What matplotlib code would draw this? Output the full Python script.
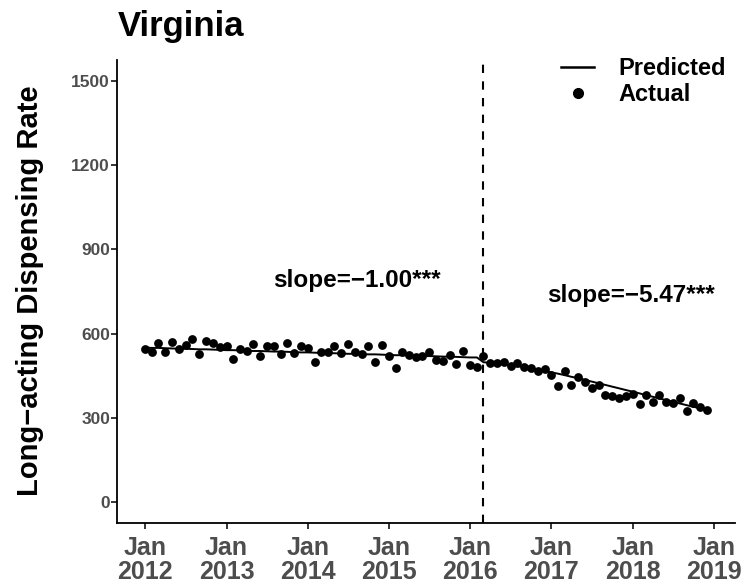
import numpy as np
import pandas as pd
import matplotlib
matplotlib.use('Agg')
import matplotlib.pyplot as plt
from matplotlib.lines import Line2D

plt.rcParams['font.family'] = ['Liberation Sans', 'DejaVu Sans']

# monthly data, Jan 2012 - Dec 2018
months = pd.date_range('2012-01-01', periods=84, freq='MS')
actual = [544, 533, 567, 533, 571, 544, 559, 579, 526, 574, 565, 551,
          555, 508, 544, 539, 562, 520, 555, 555, 526, 565, 532, 555,
          547, 500, 535, 535, 557, 531, 562, 534, 527, 555, 499, 559,
          520, 478, 534, 523, 516, 520, 534, 506, 501, 524, 491, 539,
          488, 480, 521, 494, 495, 498, 485, 494, 482, 476, 468, 475,
          453, 414, 465, 417, 445, 429, 406, 417, 382, 378, 370, 376,
          384, 350, 382, 356, 380, 358, 353, 370, 323, 353, 338, 326]
predicted = [550, 549, 549, 548, 547, 546, 546, 545, 544, 544, 543, 542,
             541, 541, 540, 539, 538, 538, 537, 536, 536, 535, 534, 533,
             533, 532, 531, 531, 530, 529, 528, 528, 527, 526, 526, 525,
             524, 523, 523, 522, 521, 520, 520, 519, 518, 518, 517, 516,
             515, 515, 498, 496, 493, 490, 487, 484, 480, 476, 472, 467,
             462, 457, 452, 446, 441, 435, 429, 423, 417, 411, 405, 399,
             393, 387, 381, 375, 369, 363, 357, 351, 345, 339, 334, 328]
intervention = pd.Timestamp('2016-03-01')
tick_years = [2012, 2013, 2014, 2015, 2016, 2017, 2018, 2019]
y_ticks = [0, 300, 600, 900, 1200, 1500]

fig = plt.figure(figsize=(7.55, 5.88), dpi=100)
ax = fig.add_axes([0.155, 0.1105, 0.8185, 0.7875])

ax.plot(months, predicted, color='black', lw=1.4, zorder=3)
ax.scatter(months, actual, s=40, color='black', zorder=4, linewidths=0)
ax.axvline(intervention, color='black', lw=1.5, dashes=(4, 4))

ax.text(pd.Timestamp('2014-08-10'), 789, 'slope=\u22121.00***', ha='center', va='center',
        fontsize=17.5, fontweight='bold')
ax.text(pd.Timestamp('2017-12-25'), 736, 'slope=\u22125.47***', ha='center', va='center',
        fontsize=17.5, fontweight='bold')

span = months[-1] - months[0]
ax.set_xlim(months[0] - 0.05 * span, months[-1] + 0.05 * span)
ax.set_ylim(-75, 1575)

ax.set_xticks([pd.Timestamp(f'{y}-01-01') for y in tick_years])
ax.set_xticklabels([f'Jan\n{y}' for y in tick_years], linespacing=1.02)
ax.set_yticks(y_ticks)
ax.tick_params(axis='both', length=4, width=1.1, color='black', labelcolor='#4D4D4D')
ax.tick_params(axis='x', labelsize=18, pad=5)
ax.tick_params(axis='y', labelsize=12.5, pad=1)
for lbl in ax.get_xticklabels() + ax.get_yticklabels():
    lbl.set_fontweight('bold')

for side in ['top', 'right']:
    ax.spines[side].set_visible(False)
for side in ['left', 'bottom']:
    ax.spines[side].set_linewidth(1.3)

fig.text(30 / 755, 1 - 291 / 588, 'Long\u2212acting Dispensing Rate', rotation=90,
         ha='center', va='center', fontsize=21, fontweight='bold')
fig.text(0.156, 0.955, 'Virginia', fontsize=25, fontweight='bold', ha='left', va='center')

handles = [Line2D([], [], color='black', lw=1.8),
           Line2D([], [], color='black', marker='o', ls='none', markersize=7)]
ax.legend(handles, ['Predicted', 'Actual'], loc='upper right', bbox_to_anchor=(1.0, 1.027),
          frameon=False, prop={'size': 17, 'weight': 'bold'}, handlelength=1.4,
          labelspacing=0.15, borderaxespad=0, handletextpad=1.0)

fig.savefig('out.png', dpi=100)
